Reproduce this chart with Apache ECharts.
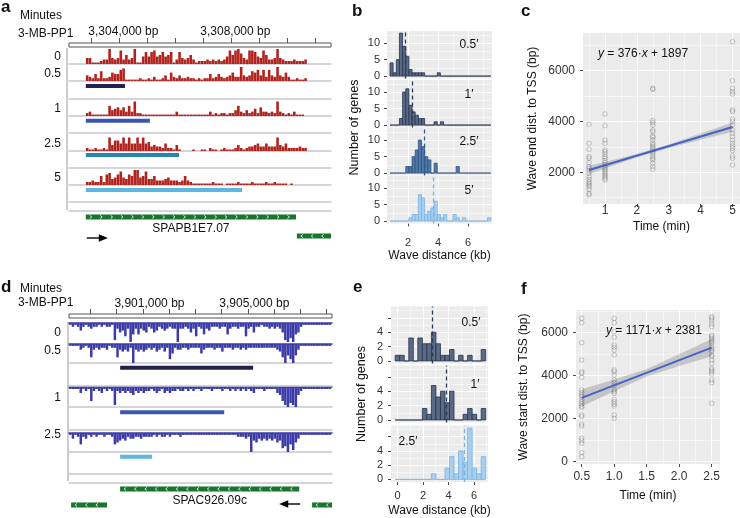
<!DOCTYPE html>
<html>
<head>
<meta charset="utf-8">
<script src="https://cdn.jsdelivr.net/npm/echarts@6.0.0/dist/echarts.min.js"></script>
<style>html,body{margin:0;padding:0;background:#fff;}#chart{width:740px;height:518px;}</style>
</head>
<body>
<div id="chart"></div>
<script>
// ===================== DATA =====================
// ---- Panel a: coverage around SPAPB1E7.07 (positions in kb) ----
const aView = [3302.2, 3311.56];
const aRulerTicks = [3303, 3304, 3305, 3306, 3307, 3308, 3309, 3310, 3311];
const aRulerLabels = [3304, 3308];
const aTrackNames = ['0', '0.5', '1', '2.5', '5'];
const aBinStart = 3302.8;
const aBinWidth = 0.1;
const aCov_0 = [4,4,1,1,1,2,3,3,10,4, 3,4,9,3,6,3,4,10,1,1, 5,8,5,8,9,5,6,8,5,6, 8,1,3,8,4,3,4,6,3,1, 2,2,2,3,2,3,2,3,2,3, 5,9,6,9,10,7,4,3,9,9, 8,5,4,9,6,3,3,4,10,4, 3,2,2,2,3,2,2,2,3];
const aCov_05 = [4,3,2,5,2,7,2,2,3,6, 5,5,8,9,1,1,1,1,1,2, 1,1,2,1,3,1,1,2,4,1, 6,3,2,4,2,2,3,2,2,1, 2,1,2,2,5,2,3,5,3,2, 3,4,6,3,3,10,4,3,4,7, 6,8,4,8,3,8,4,3,10,4, 3,6,3,1,1,2,1,1,2];
const aCov_1 = [2,3,1,1,1,1,1,1,7,4, 5,6,4,6,3,7,3,10,2,2, 1,1,1,1,1,1,1,1,1,1, 1,1,3,1,1,1,1,1,1,1, 1,1,1,1,3,1,2,1,2,2, 1,2,2,4,7,3,2,4,2,3, 5,2,6,3,3,2,3,2,10,3, 2,1,2,1,3,1,1,1,0];
const aCov_25 = [2,1,1,2,1,1,2,1,9,4, 7,7,5,9,5,9,5,5,9,5, 9,5,6,3,4,3,3,2,5,2, 2,1,4,1,0,0,0,0,1,0, 0,1,1,0,2,1,1,0,1,2, 1,1,1,2,4,2,1,2,3,3, 4,5,3,3,5,3,3,3,9,4, 3,5,2,2,2,2,3,2,2];
const aCov_5 = [2,2,3,2,2,6,2,7,8,4, 5,7,9,5,4,7,6,10,10,5, 6,9,4,4,6,3,3,3,4,5, 3,3,3,2,3,6,3,2,1,1, 1,1,1,1,1,2,1,1,1,0, 1,1,1,1,2,1,1,1,1,2, 1,1,1,1,2,1,1,2,1,1, 1,1,0,1,0,0,0,0,0];
const aWaveStart = [3302.8, 3302.8, 3302.8, 3302.8];
const aWaveEnd = [3304.2, 3305.09, 3306.13, 3308.38];
const aGeneNames = ['SPAPB1E7.07', ''];
const aGeneStart = [3302.8, 3310.34];
const aGeneEnd = [3310.31, 3311.56];
const aGeneRow = [0, 1];
const aGeneStrand = [1, -1];

// ---- Panel d: coverage around SPAC926.09c (kb) ----
const dView = [3898.18, 3908.21];
const dRulerTicks = [3899, 3900, 3901, 3902, 3903, 3904, 3905, 3906, 3907, 3908];
const dRulerLabels = [3901, 3905];
const dTrackNames = ['0', '0.5', '1', '2.5'];
const dBinStart = 3898.18;
const dBinWidth = 0.1;
const dCov_0 = [1,2,1,2,4,2,1,2,3,2, 2,1,2,1,2,2,1,9,3,5, 4,7,3,10,6,3,6,3,4,5, 2,3,5,4,2,3,4,3,2,3, 3,10,3,3,2,3,5,3,7,2, 3,6,3,4,2,2,2,3,2,2, 6,3,2,2,3,2,2,7,3,2, 5,2,2,1,2,2,3,2,3,2, 3,5,9,10,8,10,6,5,2,1, 1,1,1,1,1,1,1,1,1,1];
const dCov_05 = [1,1,1,1,3,2,1,2,7,3, 2,3,2,2,3,1,2,2,7,3, 4,3,4,2,10,3,4,3,4,3, 2,3,2,4,3,2,4,2,8,5, 2,3,3,2,2,3,2,2,2,2, 5,3,2,2,2,3,2,2,4,2, 2,2,3,2,2,3,2,3,2,2, 2,2,2,2,2,2,2,2,2,3, 4,7,10,6,8,10,6,3,1,1, 1,1,1,1,1,1,1,1,1,1];
const dCov_1 = [1,1,1,1,3,1,2,1,7,2, 1,2,3,1,2,1,2,9,2,3, 2,3,2,3,4,2,3,2,3,2, 2,1,2,3,2,1,3,2,3,2, 2,1,2,2,1,2,1,2,1,1, 2,1,1,1,2,1,1,1,2,1, 1,2,1,2,1,2,1,2,1,2, 3,1,1,1,2,1,1,1,1,3, 4,7,9,10,8,9,10,4,2,1, 1,1,1,1,1,1,1,1,1,1];
const dCov_25 = [1,3,1,2,6,2,3,1,2,1, 2,1,1,2,1,1,2,6,5,4, 3,4,2,3,3,2,2,3,2,2, 2,2,1,2,1,2,2,1,2,1, 1,1,2,1,1,1,1,1,1,1, 1,1,1,1,1,1,1,1,1,1, 1,1,1,1,2,2,2,3,2,10, 4,5,3,4,3,4,3,4,3,5, 4,8,7,10,6,9,5,3,1,1, 1,1,1,1,1,1,1,1,1,1];
const dWaveStart = [3900.13, 3900.13, 3900.13];
const dWaveEnd = [3905.2, 3904.1, 3901.35];
const dGeneNames = ['SPAC926.09c', '', ''];
const dGeneStart = [3900.13, 3898.26, 3907.45];
const dGeneEnd = [3906.96, 3899.63, 3908.21];
const dGeneRow = [0, 1, 1];
const dGeneStrand = [-1, -1, -1];

// ---- Panel b: wave distance histograms (kb) ----
const bLabels = ['0.5\u2032', '1\u2032', '2.5\u2032', '5\u2032'];
const bBinStart = 0.8;
const bBinWidth = 0.21;
const bCounts_05 = [4,1,5,13,9,6,2,1,1,1,1,0,0,0,0,1,0,0,0,0,0,0,0,0,0,0,0,0,0,0,0,0];
const bCounts_1  = [0,0,0,2,10,11,6,4,3,2,2,0,0,0,1,0,1,0,0,0,0,0,0,0,0,0,0,0,0,0,0,0];
const bCounts_25 = [0,0,0,0,0,2,2,5,7,10,8,5,4,0,3,0,0,0,0,0,0,2,0,0,0,0,0,0,0,0,0,0];
const bCounts_5  = [0,0,0,0,0,0,1,2,2,8,7,2,3,4,6,2,1,2,0,0,2,1,0,1,0,0,0,0,0,0,0,1];
const bMeans = [1.8, 2.31, 3.09, 3.65];
const bXTicks = [2, 4, 6];
const bYTicks = [0, 5, 10];

// ---- Panel e ----
const eLabels = ['0.5\u2032', '1\u2032', '2.5\u2032'];
const eBinStart = -0.18;
const eBinWidth = 0.355;
const eCounts_05 = [0.8,0.8,0,3.2,0,3.2,2.4,2.4,4.0,2.4,0.8,0.8,1.6,0,0.8,0,0.8,0,0,1.6];
const eCounts_1  = [0,0,0,0,0,0,1.6,0.8,4.8,3.2,4.0,2.4,4.0,0,0,0.8,1.6,0.8,0,1.6];
const eCounts_25 = [0,0,0,0,0,0,0,0,0.8,0,0,1.6,3.2,0.8,4.0,2.4,7.2,1.6,0.8,3.2];
const eMeans = [2.75, 3.79, 5.2];
const eXTicks = [0, 2, 4, 6];
const eYTicks = [0, 2, 4, 6];
const eYLabels = [0, 2, 4];

// ---- Panel c: wave end distance vs time ----
const cTimes = [0.5, 1, 2.5, 5];
const cEnd_05 = [3886,3138,2902,2610,2547,2374,2217,2153,2059,1955,1823,1719,1627,1562,1496,1430,1326,1169,1102];
const cEnd_1  = [4291,3832,3268,3138,2874,2808,2717,2610,2547,2453,2374,2283,2217,2153,2087,2020,1955,1890,1823,1757,1693];
const cEnd_25 = [5302,5262,4028,3949,3858,3661,3596,3425,3373,3268,3138,3071,3004,2940,2874,2808,2744,2638,2547,2480,2350,2217,2114];
const cEnd_5  = [7138,5602,5302,5170,5079,4449,4382,4082,3989,3858,3661,3532,3399,3268,3138,3032,2940,2847,2638,2547,2283];
const cSlope = 376, cIntercept = 1897;
const cBandX  = [0.5, 1, 2, 3, 4, 5];
const cBandLo = [1920, 2143, 2584, 2955, 3281, 3597];
const cBandHi = [2250, 2403, 2714, 3095, 3521, 3957];
const cXTicks = [1, 2, 3, 4, 5];
const cYTicks = [2000, 4000, 6000];

// ---- Panel f: wave start distance vs time ----
const fTimes = [0.5, 1, 2.5];
const fStart_05 = [6670,6465,5535,4730,4186,4112,3926,3335,3209,3102,3023,2902,2791,2684,2591,2530,2172,2093,1753,1660,1088,977,856,419,233];
const fStart_1  = [6670,6465,6047,5786,5428,5321,5195,4963,4265,4186,4033,3800,3675,3551,3335,3256,3181,2902,2791,2684,2591,2172,2018];
const fStart_25 = [6744,6670,6558,6403,6279,5892,5814,5740,5660,5581,5507,5381,5274,5195,5116,4963,4884,4730,4577,4344,4265,4186,4079,3800,3675,2716];
const fSlope = 1171, fIntercept = 2381;
const fBandX  = [0.5, 1, 1.5, 2, 2.5];
const fBandLo = [2566, 3282, 3968, 4453, 4909];
const fBandHi = [3366, 3822, 4308, 4993, 5709];
const fXTicks = [0.5, 1, 1.5, 2, 2.5];
const fYTicks = [0, 2000, 4000, 6000];

// ===================== STYLE / LAYOUT =====================
const FONT = "'Liberation Sans', Arial, Helvetica, sans-serif";
const BG = '#ebebeb', TICK = '#333', LBL = '#333', SEP = '#c6c6ce', GREEN = '#17752d';
const RED = '#b3231e', PURP = '#3c3ca8';
const grids = [], xAxes = [], yAxes = [], series = [], graphics = [];

function grid(g) { grids.push(Object.assign({containLabel: false}, g)); return grids.length - 1; }
function xAx(o) { xAxes.push(o); return xAxes.length - 1; }
function yAx(o) { yAxes.push(o); return yAxes.length - 1; }
function lineAxis(gi, view, position, color, width) {
  return xAx({gridIndex: gi, type: 'value', min: view[0], max: view[1], position,
    axisLine: {show: true, onZero: false, lineStyle: {color, width}},
    axisTick: {show: false}, axisLabel: {show: false}, splitLine: {show: false}});
}
function txt(x, y, text, st, extra) {
  return Object.assign({type: 'text', x, y, silent: true, z: 100,
    style: Object.assign({text, fontFamily: FONT, fontSize: 12, fill: '#111', align: 'left', verticalAlign: 'middle'}, st || {})}, extra || {});
}
function kbFmt(v) { return Math.round(v * 1000).toLocaleString('en-US') + ' bp'; }
function plainFmt(v) { return String(v); }

function ruler(L, W, top, view, ticks, labels, shift, margin) {
  const gi = grid({left: L, top, width: W, height: 4, show: true, backgroundColor: '#fff', borderColor: '#555', borderWidth: 1});
  xAx({gridIndex: gi, type: 'value', min: view[0], max: view[1], position: 'top',
    axisLine: {show: false, onZero: false}, splitLine: {show: false},
    axisTick: {show: true, customValues: ticks, length: 5, lineStyle: {color: '#555', width: 1}},
    axisLabel: {show: true, customValues: labels, formatter: kbFmt, margin, fontSize: 12, color: '#111', fontFamily: FONT, padding: [0, 0, 0, shift]}});
  yAx({gridIndex: gi, type: 'value', min: 0, max: 1, show: false});
}
function track(L, W, view, top, h, start, bw, vals, color, down, bw2) {
  const gi = grid({left: L, top, width: W, height: h});
  const xi = down ? lineAxis(gi, view, 'top', color, 1.5) : lineAxis(gi, view, 'bottom', SEP, 1.5);
  const yi = yAx({gridIndex: gi, type: 'value', min: 0, max: 10, inverse: !!down, show: false});
  series.push({type: 'bar', xAxisIndex: xi, yAxisIndex: yi, barWidth: bw2, silent: true,
    itemStyle: {color}, data: vals.map((v, i) => [start + (i + 0.5) * bw, v])});
}
function feature(L, W, view, top, bottom, barY, s, e, color, topLine) {
  const h = bottom - top;
  const gi = grid({left: L, top, width: W, height: h});
  const xi = lineAxis(gi, view, 'bottom', SEP, 1.5);
  if (topLine) lineAxis(gi, view, 'top', SEP, 1.5);
  const yi = yAx({gridIndex: gi, type: 'value', min: 0, max: h, inverse: true, show: false});
  const y0 = barY - top - 2, y1 = barY - top + 2;
  series.push({type: 'custom', xAxisIndex: xi, yAxisIndex: yi, silent: true, data: [[s, e, 0]], encode: {x: [0, 1], y: 2},
    renderItem: (p, api) => {
      const a = api.coord([api.value(0), y0]), b = api.coord([api.value(1), y1]);
      return {type: 'rect', shape: {x: a[0], y: a[1], width: b[0] - a[0], height: b[1] - a[1]}, style: {fill: color}};
    }});
}
function genes(cfg) {
  const gi = grid({left: cfg.left, top: cfg.top, width: cfg.width, height: cfg.height});
  const xi = lineAxis(gi, cfg.view, 'top', SEP, 1.5);
  const yi = yAx({gridIndex: gi, type: 'value', min: 0, max: 1, show: false});
  series.push({type: 'custom', xAxisIndex: xi, yAxisIndex: yi, silent: true,
    data: cfg.start.map((s, i) => [s, cfg.end[i], cfg.row[i], cfg.strand[i]]), encode: {x: [0, 1], y: 2},
    renderItem: (params, api) => {
      const i = params.dataIndex;
      const st = api.value(3), row = api.value(2);
      const x0 = api.coord([api.value(0), 0])[0], x1 = api.coord([api.value(1), 0])[0];
      const yc = params.coordSys.y + cfg.rowY0 + row * cfg.rowGap;
      const ch = [{type: 'rect', shape: {x: x0, y: yc - 2.5, width: x1 - x0, height: 5}, style: {fill: GREEN}}];
      for (let x = x0 + 5; x < x1 - 3; x += 10.4) {
        ch.push({type: 'polyline', shape: {points: st > 0 ? [[x - 1, yc - 1.6], [x + 1, yc], [x - 1, yc + 1.6]] : [[x + 1, yc - 1.6], [x - 1, yc], [x + 1, yc + 1.6]]},
          style: {stroke: '#fff', lineWidth: 0.8, fill: null}});
      }
      const name = cfg.names[i];
      if (name) {
        ch.push({type: 'text', x: (x0 + x1) / 2, y: yc + cfg.labelDy, style: {text: name, align: 'center', verticalAlign: 'middle', fontSize: 12, fontFamily: FONT, fill: '#111'}});
        const ya = yc + cfg.arrowDy;
        if (st > 0) {
          const xa = x0 + 1;
          ch.push({type: 'line', shape: {x1: xa, y1: ya, x2: xa + 13, y2: ya}, style: {stroke: '#000', lineWidth: 1.4}});
          ch.push({type: 'polygon', shape: {points: [[xa + 12, ya - 3.8], [xa + 21, ya], [xa + 12, ya + 3.8]]}, style: {fill: '#000'}});
        } else {
          const xa = x1 + 1;
          ch.push({type: 'line', shape: {x1: xa - 13, y1: ya, x2: xa, y2: ya}, style: {stroke: '#000', lineWidth: 1.4}});
          ch.push({type: 'polygon', shape: {points: [[xa - 12, ya - 3.8], [xa - 21, ya], [xa - 12, ya + 3.8]]}, style: {fill: '#000'}});
        }
      }
      return {type: 'group', children: ch};
    }});
}
function gridLines(xi, yi, xMaj, xMin, yMaj, yMin) {
  const d = [];
  xMin.forEach(v => d.push({xAxis: v, lineStyle: {width: 0.5}}));
  yMin.forEach(v => d.push({yAxis: v, lineStyle: {width: 0.5}}));
  xMaj.forEach(v => d.push({xAxis: v, lineStyle: {width: 1.1}}));
  yMaj.forEach(v => d.push({yAxis: v, lineStyle: {width: 1.1}}));
  series.push({type: 'line', xAxisIndex: xi, yAxisIndex: yi, data: [], silent: true, z: 1,
    markLine: {z: 1, silent: true, symbol: 'none', animation: false, label: {show: false}, lineStyle: {color: '#fff', type: 'solid'}, data: d}});
}
function ggAxes(gi, o) {
  const xi = xAx({gridIndex: gi, type: 'value', min: o.xr[0], max: o.xr[1],
    name: o.xName || '', nameLocation: 'middle', nameGap: o.xNameGap || 0, nameTextStyle: {fontSize: 12, color: '#111', fontFamily: FONT},
    axisLine: {show: false, onZero: false}, splitLine: {show: false},
    axisTick: {show: o.showX, customValues: o.xTicks, length: 3, lineStyle: {color: TICK, width: 0.9}},
    axisLabel: {show: o.showX, customValues: o.xTicks, margin: o.xMargin, fontSize: o.fs, color: LBL, fontFamily: FONT, formatter: o.xFmt || plainFmt}});
  const yi = yAx({gridIndex: gi, type: 'value', min: o.yr[0], max: o.yr[1],
    name: o.yName || '', nameLocation: 'middle', nameGap: o.yNameGap || 0, nameTextStyle: {fontSize: 12, color: '#111', fontFamily: FONT},
    axisLine: {show: false, onZero: false}, splitLine: {show: false},
    axisTick: {show: true, customValues: o.yTicks, length: 3, lineStyle: {color: TICK, width: 0.9}},
    axisLabel: {show: true, customValues: o.yLabels, margin: o.yMargin, fontSize: o.fs, color: LBL, fontFamily: FONT, formatter: plainFmt}});
  gridLines(xi, yi, o.xMaj, o.xMin, o.yMaj, o.yMin);
  return [xi, yi];
}
function hist(o) {
  const gi = grid({left: o.left, top: o.top, width: o.width, height: o.height, show: true, backgroundColor: BG, borderWidth: 0});
  const [xi, yi] = ggAxes(gi, o);
  series.push({type: 'custom', xAxisIndex: xi, yAxisIndex: yi, silent: true, z: 3,
    data: o.counts.map((c, i) => [o.start + i * o.bw, o.start + (i + 1) * o.bw, c]), encode: {x: [0, 1], y: 2},
    renderItem: (p, api) => {
      const a = api.coord([api.value(0), api.value(2)]), b = api.coord([api.value(1), 0]);
      return {type: 'rect', shape: {x: a[0], y: a[1], width: b[0] - a[0], height: b[1] - a[1]}, style: {fill: o.fill, stroke: o.stroke, lineWidth: 0.8}};
    },
    markLine: {z: 6, silent: true, symbol: 'none', animation: false, label: {show: false},
      lineStyle: {color: o.dash, type: [4, 3], width: 1.3}, data: [{xAxis: o.mean}]}});
}
function scatterPanel(o) {
  const gi = grid({left: o.left, top: o.top, width: o.width, height: o.height, show: true, backgroundColor: BG, borderWidth: 0});
  const [xi, yi] = ggAxes(gi, o);
  // confidence band as one polygon built from the band arrays through the axes
  series.push({type: 'custom', xAxisIndex: xi, yAxisIndex: yi, silent: true, z: 2,
    data: o.bandX.map((x, i) => [x, o.bandLo[i], o.bandHi[i]]), encode: {x: 0, y: [1, 2]},
    renderItem: (params, api) => {
      if (params.dataIndex !== 0) return null;
      const up = o.bandX.map((x, i) => api.coord([x, o.bandHi[i]]));
      const lo = o.bandX.map((x, i) => api.coord([x, o.bandLo[i]])).reverse();
      return {type: 'polygon', shape: {points: up.concat(lo)}, style: {fill: 'rgba(150,150,150,0.45)'}};
    }});
  const pts = [];
  o.times.forEach((t, k) => o.vals[k].forEach(v => pts.push([t, v])));
  series.push({type: 'scatter', xAxisIndex: xi, yAxisIndex: yi, silent: true, z: 3, symbol: 'circle', symbolSize: 4.6,
    itemStyle: {color: 'rgba(0,0,0,0)', borderColor: 'rgba(85,85,85,0.55)', borderWidth: 0.7}, data: pts});
  const fx = [o.times[0], o.times[o.times.length - 1]];
  series.push({type: 'line', xAxisIndex: xi, yAxisIndex: yi, silent: true, z: 4, symbol: 'none',
    lineStyle: {color: '#4462c6', width: 2}, data: fx.map(x => [x, o.slope * x + o.icpt])});
  graphics.push(txt(o.eqX, o.eqY, '{i|y} = ' + o.slope + '\u00b7{i|x} + ' + o.icpt,
    {rich: {i: {fontStyle: 'italic', fontSize: 12, fontFamily: FONT, fill: '#111'}}}));
}

// ===================== BUILD =====================
// ---------- panel a ----------
const LA = {left: 69, width: 262, trackTop: [49, 67, 101.5, 136, 170], trackH: [15, 14, 14.5, 15, 15],
  featTop: [83, 117, 152, 186], featBot: [99, 133, 168, 202], barY: [86, 120.7, 155, 190],
  labelY: [56.8, 73.8, 108.8, 143.8, 177.8], waveColors: ['#222258', '#3a55b0', '#2a84b0', '#5cb6e2']};
ruler(LA.left, LA.width, 43, aView, aRulerTicks, aRulerLabels, 8, 5);
[aCov_0, aCov_05, aCov_1, aCov_25, aCov_5].forEach((v, k) =>
  track(LA.left, LA.width, aView, LA.trackTop[k], LA.trackH[k], aBinStart, aBinWidth, v, RED, false, 2.6));
aWaveStart.forEach((s, k) => feature(LA.left, LA.width, aView, LA.featTop[k], LA.featBot[k], LA.barY[k], s, aWaveEnd[k], LA.waveColors[k], false));
genes({left: LA.left, width: LA.width, top: 211, height: 34, view: aView, start: aGeneStart, end: aGeneEnd, row: aGeneRow,
  strand: aGeneStrand, names: aGeneNames, rowY0: 6, rowGap: 19, labelDy: 12, arrowDy: 21});
aTrackNames.forEach((n, k) => graphics.push(txt(61, LA.labelY[k], n, {align: 'right'})));
graphics.push(txt(20, 15.8, 'Minutes'), txt(18, 33.8, '3-MB-PP1'), txt(1, 7, 'a', {fontSize: 17, fontWeight: 'bold'}));
graphics.push({type: 'line', silent: true, shape: {x1: 67, y1: 48, x2: 67, y2: 210}, style: {stroke: '#999', lineWidth: 1}});

// ---------- panel d ----------
const LD = {left: 69, width: 263, trackTop: [323, 344, 387, 433], trackH: [19, 19, 20, 19],
  featTop: [363, 407, 452], featBot: [386, 430, 474], barY: [367.7, 412.3, 456.7],
  labelY: [332.8, 350.8, 397.8, 434.8], waveColors: ['#222250', '#3d56b0', '#5cb6e2']};
ruler(LD.left, LD.width, 314, dView, dRulerTicks, dRulerLabels, 13, 4);
[dCov_0, dCov_05, dCov_1, dCov_25].forEach((v, k) =>
  track(LD.left, LD.width, dView, LD.trackTop[k], LD.trackH[k], dBinStart, dBinWidth, v, PURP, true, 2.5));
dWaveStart.forEach((s, k) => feature(LD.left, LD.width, dView, LD.featTop[k], LD.featBot[k], LD.barY[k], s, dWaveEnd[k], LD.waveColors[k], true));
genes({left: LD.left, width: LD.width, top: 483, height: 32, view: dView, start: dGeneStart, end: dGeneEnd, row: dGeneRow,
  strand: dGeneStrand, names: dGeneNames, rowY0: 6, rowGap: 16, labelDy: 12, arrowDy: 15});
dTrackNames.forEach((n, k) => graphics.push(txt(61, LD.labelY[k], n, {align: 'right'})));
graphics.push(txt(20, 288.8, 'Minutes'), txt(18, 302.8, '3-MB-PP1'), txt(1, 287, 'd', {fontSize: 17, fontWeight: 'bold'}));
graphics.push({type: 'line', silent: true, shape: {x1: 68, y1: 322, x2: 68, y2: 481}, style: {stroke: '#999', lineWidth: 1}});

// ---------- panel b ----------
const DARK = {fill: '#5a6a86', stroke: '#26334c', dash: '#2b3b58'};
const MID = {fill: '#4f78a6', stroke: '#2e5582', dash: '#2d5a88'};
const LIGHT = {fill: '#a9cff0', stroke: '#78b3e2', dash: '#79b4e3'};
const bStyles = [DARK, DARK, MID, LIGHT];
const bTops = [31, 80, 128, 176];
const bLabelY = [45, 95, 142, 191];
[bCounts_05, bCounts_1, bCounts_25, bCounts_5].forEach((c, k) => {
  hist(Object.assign({left: 387, top: bTops[k], width: 105, height: 47.4, xr: [0.6, 7.6], yr: [-0.7, 13.65],
    start: bBinStart, bw: bBinWidth, counts: c, mean: bMeans[k], showX: k === 3, xTicks: bXTicks,
    yTicks: bYTicks, yLabels: bYTicks, xMaj: bXTicks, xMin: [1, 3, 5, 7], yMaj: bYTicks, yMin: [2.5, 7.5, 12.5],
    fs: 11, xMargin: 14, yMargin: 7,
    xName: k === 3 ? 'Wave distance (kb)' : '', xNameGap: 25}, bStyles[k]));
  graphics.push(txt(469, bLabelY[k], bLabels[k], {align: 'center'}));
});
graphics.push(txt(355, 127.5, 'Number of genes', {align: 'center', fontSize: 12.5}, {rotation: Math.PI / 2}));
graphics.push(txt(352, 11, 'b', {fontSize: 17, fontWeight: 'bold'}));

// ---------- panel e ----------
const eStyles = [DARK, DARK, LIGHT];
const eTops = [306.6, 365.6, 425.6];
const eLabelPos = [[471, 323], [475, 385], [408, 442]];
[eCounts_05, eCounts_1, eCounts_25].forEach((c, k) => {
  hist(Object.assign({left: 391, top: eTops[k], width: 97, height: 57, xr: [-0.51, 7.1], yr: [-0.36, 7.56],
    start: eBinStart, bw: eBinWidth, counts: c, mean: eMeans[k], showX: k === 2, xTicks: eXTicks,
    yTicks: eYTicks, yLabels: eYLabels, xMaj: eXTicks, xMin: [1, 3, 5, 7], yMaj: eYTicks, yMin: [1, 3, 5, 7],
    fs: 11, xMargin: 8, yMargin: 8,
    xName: k === 2 ? 'Wave distance (kb)' : '', xNameGap: 23}, eStyles[k]));
  graphics.push(txt(eLabelPos[k][0], eLabelPos[k][1], eLabels[k], {align: 'center'}));
});
graphics.push(txt(362, 394, 'Number of genes', {align: 'center', fontSize: 12.5}, {rotation: Math.PI / 2}));
graphics.push(txt(353, 287, 'e', {fontSize: 17, fontWeight: 'bold'}));

// ---------- panel c ----------
scatterPanel({id: 'c', left: 583, top: 33, width: 157, height: 171, xr: [0.31, 5.235], yr: [748, 7480],
  xTicks: cXTicks, yTicks: cYTicks, yLabels: cYTicks, showX: true, fs: 12, xMargin: 1, yMargin: 8,
  xMaj: cXTicks, xMin: [0.5, 1.5, 2.5, 3.5, 4.5], yMaj: cYTicks, yMin: [1000, 3000, 5000, 7000],
  xName: 'Time (min)', xNameGap: 17, yName: 'Wave end dist. to TSS (bp)', yNameGap: 44,
  bandX: cBandX, bandLo: cBandLo, bandHi: cBandHi, times: cTimes, vals: [cEnd_05, cEnd_1, cEnd_25, cEnd_5],
  slope: cSlope, icpt: cIntercept, eqX: 598, eqY: 54});
graphics.push(txt(521, 11, 'c', {fontSize: 17, fontWeight: 'bold'}));

// ---------- panel f ----------
scatterPanel({id: 'f', left: 576, top: 310, width: 144, height: 154, xr: [0.412, 2.628], yr: [-107, 7056],
  xTicks: fXTicks, yTicks: fYTicks, yLabels: fYTicks, showX: true, fs: 12, xMargin: 7, yMargin: 8,
  xFmt: v => v.toFixed(1),
  xMaj: fXTicks, xMin: [0.75, 1.25, 1.75, 2.25], yMaj: fYTicks, yMin: [1000, 3000, 5000, 7000],
  xName: 'Time (min)', xNameGap: 26, yName: 'Wave start dist. to TSS (bp)', yNameGap: 46,
  bandX: fBandX, bandLo: fBandLo, bandHi: fBandHi, times: fTimes, vals: [fStart_05, fStart_1, fStart_25],
  slope: fSlope, icpt: fIntercept, eqX: 606, eqY: 331});
graphics.push(txt(521, 289, 'f', {fontSize: 17, fontWeight: 'bold'}));

const chart = echarts.init(document.getElementById('chart'), null, {renderer: 'canvas', width: 740, height: 518});
chart.setOption({animation: false, backgroundColor: '#fff', textStyle: {fontFamily: FONT},
  grid: grids, xAxis: xAxes, yAxis: yAxes, series, graphic: {elements: graphics}});
</script>
</body>
</html>
